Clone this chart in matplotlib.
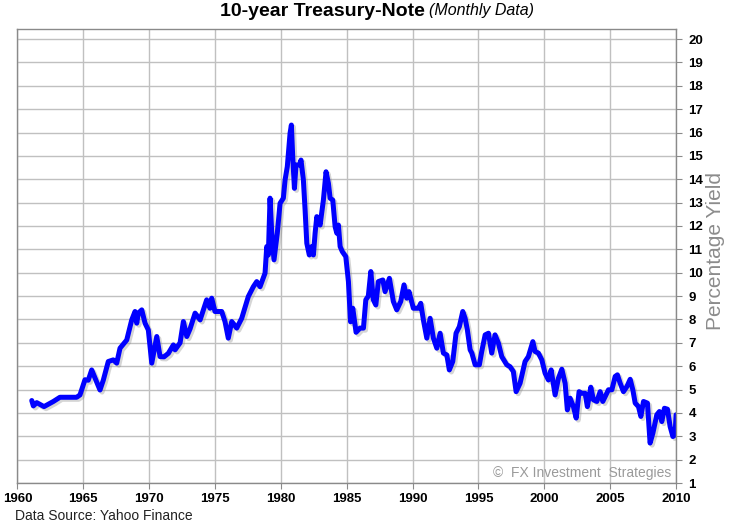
# 10-year Treasury-Note monthly yield.
import matplotlib
matplotlib.use("Agg")
import matplotlib.pyplot as plt
import matplotlib.patheffects as pe

FONT = ["Liberation Sans Narrow", "Liberation Sans", "DejaVu Sans"]
plt.rcParams["font.family"] = FONT

years = [
    1961.09, 1961.21, 1961.47, 1962.02, 1962.73, 1963.23, 1964.50, 1964.75,
    1965.13, 1965.38, 1965.64, 1965.89, 1966.27, 1966.52, 1966.90, 1967.28,
    1967.54, 1967.79, 1968.30, 1968.68, 1968.93, 1969.06, 1969.18, 1969.44,
    1969.69, 1969.94, 1970.20, 1970.58, 1970.83, 1971.13, 1971.46, 1971.84,
    1971.97, 1972.35, 1972.60, 1972.86, 1973.11, 1973.49, 1973.87, 1974.37,
    1974.62, 1974.75, 1975.00, 1975.51, 1975.76, 1976.01, 1976.27, 1976.65,
    1977.03, 1977.53, 1977.91, 1978.17, 1978.42, 1978.80, 1978.93, 1979.05,
    1979.18, 1979.31, 1979.48, 1979.73, 1979.94, 1980.19, 1980.32, 1980.49,
    1980.70, 1980.80, 1980.90, 1981.03, 1981.15, 1981.41, 1981.53, 1981.71,
    1981.84, 1981.97, 1982.16, 1982.35, 1982.47, 1982.60, 1982.73, 1982.98,
    1983.23, 1983.43, 1983.61, 1983.74, 1983.94, 1984.12, 1984.25, 1984.37,
    1984.50, 1984.67, 1984.93, 1985.13, 1985.29, 1985.46, 1985.71, 1986.01,
    1986.27, 1986.45, 1986.64, 1986.83, 1987.02, 1987.21, 1987.40, 1987.74,
    1987.91, 1988.24, 1988.54, 1988.80, 1989.10, 1989.35, 1989.56, 1989.73,
    1990.06, 1990.44, 1990.62, 1990.82, 1991.08, 1991.33, 1991.58, 1991.84,
    1992.09, 1992.34, 1992.60, 1992.79, 1993.05, 1993.30, 1993.55, 1993.81,
    1993.99, 1994.16, 1994.37, 1994.50, 1994.75, 1995.07, 1995.25, 1995.51,
    1995.76, 1996.01, 1996.26, 1996.52, 1996.77, 1997.15, 1997.40, 1997.65,
    1997.86, 1998.16, 1998.54, 1998.79, 1999.13, 1999.30, 1999.55, 1999.81,
    2000.06, 2000.31, 2000.52, 2000.82, 2001.07, 2001.33, 2001.58, 2001.75,
    2001.96, 2002.21, 2002.42, 2002.64, 2002.85, 2003.10, 2003.27, 2003.53,
    2003.73, 2003.99, 2004.24, 2004.44, 2004.62, 2004.87, 2005.13, 2005.38,
    2005.55, 2005.76, 2006.01, 2006.27, 2006.52, 2006.72, 2006.90, 2007.15,
    2007.33, 2007.53, 2007.83, 2008.03, 2008.24, 2008.54, 2008.74, 2008.92,
    2009.12, 2009.35, 2009.55, 2009.76, 2009.93, 2010.00,
]
yields = [
    4.53, 4.30, 4.44, 4.27, 4.49, 4.67, 4.67, 4.77,
    5.42, 5.40, 5.84, 5.50, 4.98, 5.40, 6.20, 6.27,
    6.13, 6.77, 7.12, 7.98, 8.34, 7.84, 8.27, 8.41,
    7.84, 7.55, 6.13, 7.27, 6.41, 6.40, 6.55, 6.91,
    6.70, 7.00, 7.91, 7.27, 7.60, 8.27, 7.98, 8.84,
    8.48, 8.91, 8.34, 8.34, 7.91, 7.20, 7.91, 7.63,
    8.05, 8.98, 9.40, 9.62, 9.40, 9.98, 11.12, 10.76,
    13.19, 11.69, 10.55, 11.69, 12.97, 13.19, 13.97, 14.54,
    15.97, 16.32, 14.97, 13.61, 14.61, 14.61, 14.82, 13.97,
    12.69, 11.26, 10.76, 11.12, 10.76, 11.69, 12.40, 12.04,
    13.11, 14.32, 13.83, 13.19, 13.11, 11.97, 11.69, 12.04,
    11.12, 10.90, 10.69, 9.62, 7.90, 8.48, 7.45, 7.63,
    7.63, 8.84, 9.00, 10.05, 8.84, 8.62, 9.62, 9.69,
    9.19, 9.76, 8.77, 8.41, 8.77, 9.48, 8.91, 9.19,
    8.48, 8.48, 8.69, 7.98, 7.20, 8.05, 7.20, 6.77,
    7.41, 6.56, 6.48, 5.84, 6.20, 7.41, 7.69, 8.34,
    8.05, 7.55, 6.70, 6.56, 6.06, 6.06, 6.63, 7.34,
    7.41, 6.56, 7.34, 6.98, 6.41, 6.06, 5.98, 5.77,
    4.91, 5.27, 6.20, 6.41, 7.05, 6.63, 6.56, 6.27,
    5.70, 5.41, 5.84, 4.77, 5.48, 5.87, 5.27, 4.13,
    4.63, 4.27, 3.78, 4.91, 4.84, 4.84, 4.27, 5.10,
    4.56, 4.49, 4.91, 4.49, 4.70, 4.99, 4.99, 5.56,
    5.63, 5.27, 4.91, 5.13, 5.44, 4.99, 4.42, 4.27,
    3.85, 4.49, 4.42, 2.71, 3.13, 3.92, 4.06, 3.63,
    4.20, 4.16, 3.42, 2.99, 3.06, 3.92,
]

x_ticks = [1960, 1965, 1970, 1975, 1980, 1985, 1990, 1995, 2000, 2005, 2010]
y_ticks = list(range(1, 21))

fig = plt.figure(figsize=(7.31, 5.26), dpi=100)
ax = fig.add_axes([0.0238, 0.0817, 0.9010, 0.8632])

ax.plot(years, yields, color="#0000FF", linewidth=3.6, solid_joinstyle="round",
        solid_capstyle="round",
        path_effects=[pe.SimpleLineShadow(offset=(1.5, -1.5), shadow_color="#888888", alpha=0.35),
                      pe.Normal()])

ax.set_xlim(1960, 2010)
ax.set_ylim(1, 20.43)
ax.set_xticks(x_ticks)
ax.set_yticks(y_ticks)
ax.grid(True, color="#c0c0c0", linewidth=1)
ax.set_axisbelow(True)

for s in ax.spines.values():
    s.set_color("#8a8a8a")
    s.set_linewidth(1)

ax.yaxis.tick_right()
ax.yaxis.set_label_position("right")
ax.tick_params(axis="both", direction="out", length=4, color="#8a8a8a", labelsize=9.5)
ax.tick_params(axis="y", pad=5)
ax.tick_params(axis="x", pad=3)
for lbl in ax.get_xticklabels() + ax.get_yticklabels():
    lbl.set_fontweight("bold")

ax.set_ylabel("Percentage Yield", fontsize=15, color="#8c8c8c", labelpad=2,
              family=["Liberation Sans", "DejaVu Sans"])
ax.yaxis.label.set_y(0.51)

ax.text(0.993, 0.022, "\u00a9  FX Investment  Strategies", transform=ax.transAxes,
        ha="right", va="center", fontsize=10, color="#9a9a9a")

fig.text(425 / 731, 1 - 11 / 526, "10-year Treasury-Note", ha="right", va="center",
         fontsize=14, fontweight="bold")
fig.text(429 / 731, 1 - 11 / 526, "(Monthly Data)", ha="left", va="center",
         fontsize=11.5, style="italic")
fig.text(15 / 731, 1 - 516 / 526, "Data Source: Yahoo Finance", ha="left", va="center",
         fontsize=10, color="#222222")

fig.savefig("out.png", dpi=100)
